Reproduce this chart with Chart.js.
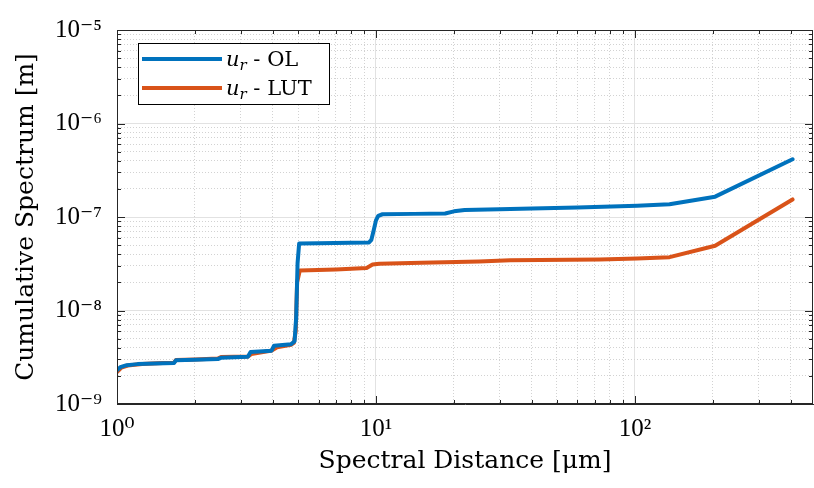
<!DOCTYPE html>
<html>
<head>
<meta charset="utf-8">
<script src="https://cdn.jsdelivr.net/npm/chart.js@4.4.1/dist/chart.umd.min.js"></script>
<style>
    html, body { margin: 0; padding: 0; background: #fff; }
    canvas { display: block; }
</style>
</head>
<body>
<canvas id="spectrumChart" width="814" height="488"></canvas>
<script>
// Spectral distance [um] / cumulative spectrum [m]
const olDistance = [1.0, 1.03, 1.09, 1.2, 1.4, 1.66, 1.69, 2.0, 2.45, 2.52, 3.2, 3.28, 3.95, 4.04, 4.7, 4.85, 4.92, 4.98, 5.05, 6.0, 8.0, 9.4, 9.6, 9.8, 10.0, 10.2, 10.6, 14, 18.5, 20, 22, 30, 40, 60, 102, 136, 204, 406];
const olSpectrum = [2.3e-9, 2.48e-9, 2.6e-9, 2.67e-9, 2.71e-9, 2.74e-9, 2.94e-9, 2.97e-9, 3.02e-9, 3.12e-9, 3.2e-9, 3.6e-9, 3.72e-9, 4.2e-9, 4.35e-9, 4.7e-9, 8.5e-9, 3.2e-8, 5.2e-8, 5.25e-8, 5.3e-8, 5.35e-8, 5.7e-8, 7.2e-8, 9.2e-8, 1.03e-7, 1.07e-7, 1.08e-7, 1.09e-7, 1.15e-7, 1.19e-7, 1.21e-7, 1.23e-7, 1.26e-7, 1.32e-7, 1.37e-7, 1.65e-7, 4.15e-7];

const lutDistance = [1.0, 1.04, 1.1, 1.25, 1.5, 1.66, 1.69, 2.0, 2.45, 2.52, 3.2, 3.3, 3.97, 4.15, 4.7, 4.82, 4.9, 4.96, 5.08, 7.0, 9.2, 9.7, 10.3, 15, 25, 33, 73, 102, 136, 204, 406];
const lutSpectrum = [2.2e-9, 2.45e-9, 2.58e-9, 2.68e-9, 2.74e-9, 2.77e-9, 2.96e-9, 3.0e-9, 3.07e-9, 3.18e-9, 3.22e-9, 3.42e-9, 3.74e-9, 4.05e-9, 4.3e-9, 4.5e-9, 6e-9, 2e-8, 2.67e-8, 2.75e-8, 2.85e-8, 3.1e-8, 3.17e-8, 3.25e-8, 3.35e-8, 3.45e-8, 3.52e-8, 3.6e-8, 3.72e-8, 4.93e-8, 1.54e-7];

const seriesNames = ["u_r - OL", "u_r - LUT"];
const seriesColors = ["#0072BD", "#D95319"];

const xLimits = [1, 487];
const yLimits = [1e-9, 1e-5];
const xTitle = "Spectral Distance [μm]";
const yTitle = "Cumulative Spectrum [m]";

const SUPERSCRIPT = { "-": "⁻", "0": "⁰", "1": "¹", "2": "²", "3": "³", "4": "⁴", "5": "⁵", "6": "⁶", "7": "⁷", "8": "⁸", "9": "⁹" };

function isDecade(v) {
    const l = Math.log10(v);
    return Math.abs(l - Math.round(l)) < 1e-6;
}

// 1..9 x 10^n ticks within [min, max]
function logTicks(min, max) {
    const ticks = [];
    for (let e = Math.floor(Math.log10(min)); e <= Math.ceil(Math.log10(max)); e++) {
        for (let m = 1; m <= 9; m++) {
            const v = m * Math.pow(10, e);
            if (v >= min * (1 - 1e-9) && v <= max * (1 + 1e-9)) {
                ticks.push({ value: v, major: m === 1 });
            }
        }
    }
    return ticks;
}

function decadeLabel(value) {
    if (!isDecade(value)) return "";
    const exp = String(Math.round(Math.log10(value)));
    return "10" + exp.split("").map(c => SUPERSCRIPT[c]).join("");
}

function toPoints(xs, ys) {
    return xs.map((x, i) => ({ x: x, y: ys[i] }));
}

const gridOptions = {
    drawTicks: false,
    lineWidth: 1,
    color: ctx => (ctx.tick && isDecade(ctx.tick.value)) ? "#e2e2e2" : "#d2d2d2",
};
const borderOptions = {
    display: true,
    color: "#262626",
    width: 1,
    dash: ctx => (ctx.tick && !isDecade(ctx.tick.value)) ? [1, 2] : [],
};

// box around the axes, inward ticks and the legend (MATLAB style)
const framePlugin = {
    id: "frame",
    afterDatasetsDraw(chart) {
        const ctx = chart.ctx;
        const area = chart.chartArea;
        const xs = chart.scales.x;
        const ys = chart.scales.y;

        ctx.save();
        ctx.strokeStyle = "#262626";
        ctx.lineWidth = 1;
        ctx.strokeRect(area.left + 0.5, area.top + 0.5, area.right - area.left - 1, area.bottom - area.top - 1);

        ctx.beginPath();
        xs.ticks.forEach(t => {
            const px = Math.round(xs.getPixelForValue(t.value)) + 0.5;
            if (px <= area.left + 1 || px >= area.right - 1) return;
            const len = isDecade(t.value) ? 8 : 4;
            ctx.moveTo(px, area.bottom);
            ctx.lineTo(px, area.bottom - len);
            ctx.moveTo(px, area.top);
            ctx.lineTo(px, area.top + len);
        });
        ys.ticks.forEach(t => {
            const py = Math.round(ys.getPixelForValue(t.value)) + 0.5;
            if (py <= area.top + 1 || py >= area.bottom - 1) return;
            const len = isDecade(t.value) ? 8 : 4;
            ctx.moveTo(area.left, py);
            ctx.lineTo(area.left + len, py);
            ctx.moveTo(area.right, py);
            ctx.lineTo(area.right - len, py);
        });
        ctx.stroke();

        // legend
        const box = { left: 138, top: 43, right: 329, bottom: 104 };
        ctx.fillStyle = "#fff";
        ctx.fillRect(box.left, box.top, box.right - box.left, box.bottom - box.top);
        ctx.strokeStyle = "#000";
        ctx.strokeRect(box.left + 0.5, box.top + 0.5, box.right - box.left, box.bottom - box.top);

        chart.data.datasets.forEach((ds, i) => {
            const y = 59 + i * 29;
            ctx.strokeStyle = ds.borderColor;
            ctx.lineWidth = 4;
            ctx.beginPath();
            ctx.moveTo(142, y);
            ctx.lineTo(222, y);
            ctx.stroke();

            const parts = ds.label.match(/^(\w)_(\w)(.*)$/);
            let x = 226;
            const base = y + 7;
            ctx.fillStyle = "#000";
            ctx.textBaseline = "alphabetic";
            ctx.textAlign = "left";
            ctx.font = "italic 21px 'DejaVu Serif'";
            ctx.fillText(parts[1], x, base);
            x += ctx.measureText(parts[1]).width;
            ctx.font = "italic 15px 'DejaVu Serif'";
            ctx.fillText(parts[2], x, base + 4);
            x += ctx.measureText(parts[2]).width;
            ctx.font = "21px 'DejaVu Serif'";
            ctx.fillText(parts[3], x, base);
        });
        ctx.restore();
    }
};

const ctx = document.getElementById("spectrumChart").getContext("2d");

const chart = new Chart(ctx, {
    type: "line",
    data: {
        datasets: [
            {
                label: seriesNames[0],
                data: toPoints(olDistance, olSpectrum),
                borderColor: seriesColors[0],
                backgroundColor: seriesColors[0],
            },
            {
                label: seriesNames[1],
                data: toPoints(lutDistance, lutSpectrum),
                borderColor: seriesColors[1],
                backgroundColor: seriesColors[1],
            },
        ],
    },
    options: {
        responsive: false,
        animation: false,
        devicePixelRatio: 1,
        layout: { padding: { top: 22, right: 1, left: 0, bottom: 0 } },
        elements: {
            line: { borderWidth: 4, tension: 0, borderJoinStyle: "round", borderCapStyle: "round" },
            point: { radius: 0, hoverRadius: 0 },
        },
        plugins: {
            legend: { display: false },
            tooltip: { enabled: false },
        },
        scales: {
            x: {
                type: "logarithmic",
                min: xLimits[0],
                max: xLimits[1],
                afterBuildTicks: scale => { scale.ticks = logTicks(xLimits[0], xLimits[1]); },
                afterFit: scale => { scale.height = 84; },
                grid: gridOptions,
                border: borderOptions,
                ticks: {
                    autoSkip: false,
                    maxRotation: 0,
                    padding: 10,
                    color: "#000",
                    font: { family: "'Liberation Serif', 'DejaVu Serif', serif", size: 25 },
                    callback: value => decadeLabel(value),
                },
                title: {
                    display: true,
                    text: xTitle,
                    color: "#000",
                    padding: { top: 0, bottom: 12 },
                    font: { family: "'DejaVu Serif', serif", size: 25, weight: "normal" },
                },
            },
            y: {
                type: "logarithmic",
                min: yLimits[0],
                max: yLimits[1],
                afterBuildTicks: scale => { scale.ticks = logTicks(yLimits[0], yLimits[1]); },
                afterFit: scale => { scale.width = 117; },
                grid: gridOptions,
                border: borderOptions,
                ticks: {
                    autoSkip: false,
                    padding: 15,
                    color: "#000",
                    font: { family: "'Liberation Serif', 'DejaVu Serif', serif", size: 25 },
                    callback: value => decadeLabel(value),
                },
                title: {
                    display: true,
                    text: yTitle,
                    color: "#000",
                    padding: { top: 11, bottom: 0 },
                    font: { family: "'DejaVu Serif', serif", size: 25, weight: "normal" },
                },
            },
        },
    },
    plugins: [framePlugin],
});
</script>
</body>
</html>
